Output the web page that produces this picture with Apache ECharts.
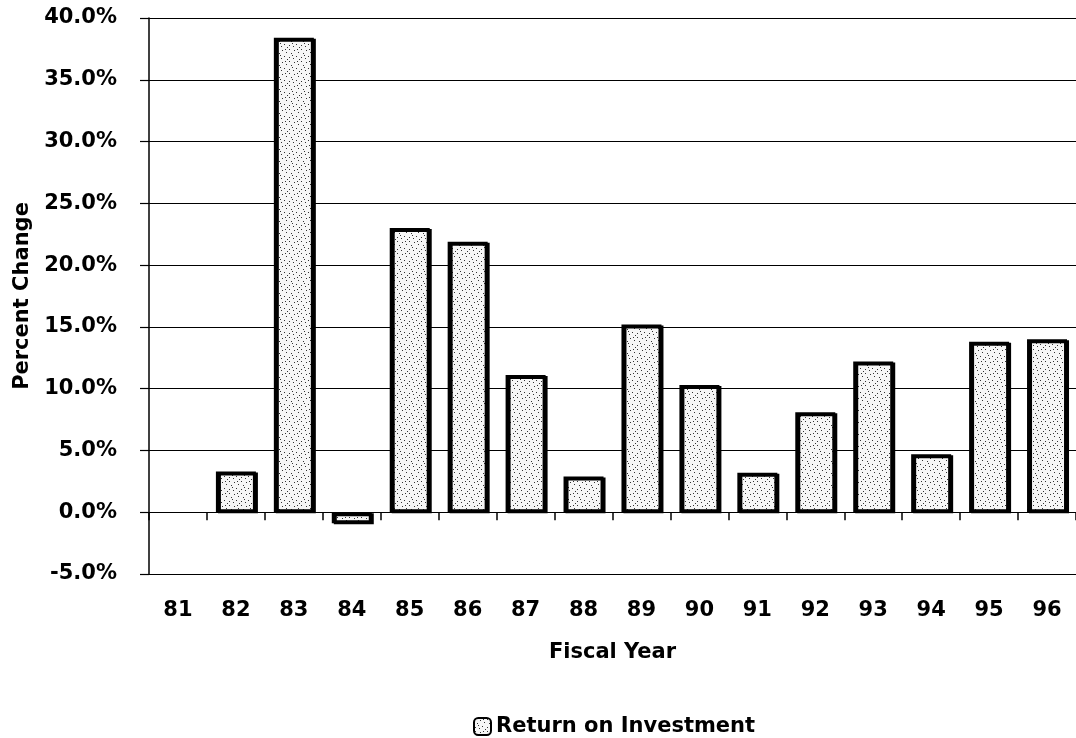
<!DOCTYPE html>
<html>
<head>
<meta charset="utf-8">
<script src="https://cdn.jsdelivr.net/npm/echarts@6/dist/echarts.min.js"></script>
<style>
html,body{margin:0;padding:0;background:#fff;}
#chart{width:1076px;height:738px;}
</style>
</head>
<body>
<div id="chart"></div>
<script>
var categories = ['81','82','83','84','85','86','87','88','89','90','91','92','93','94','95','96'];
var roiValues = [null, 3.3, 38.4, -0.9, 23.0, 21.9, 11.1, 2.9, 15.2, 10.3, 3.2, 8.1, 12.2, 4.7, 13.8, 14.0];
var seriesName = 'Return on Investment';

function makeStipple() {
  var c = document.createElement('canvas');
  c.width = 12; c.height = 12;
  var g = c.getContext('2d');
  g.fillStyle = '#f6f6f6';
  g.fillRect(0, 0, 12, 12);
  g.fillStyle = '#333';
  var pts = [[1,1],[6,2],[10,4],[3,5],[8,8],[1,9],[5,10],[11,11],[9,1],[4,7]];
  pts.forEach(function(p){ g.fillRect(p[0], p[1], 1, 1); });
  return c;
}
var stipple = makeStipple();

var font = 'DejaVu Sans';
var chart = echarts.init(document.getElementById('chart'), null, {renderer:'canvas'});
chart.setOption({
  animation: false,
  backgroundColor: '#ffffff',
  grid: { left: 149, right: -9, top: 18, bottom: 164 },
  legend: {
    data: [seriesName],
    left: 468, top: 711,
    itemWidth: 17, itemHeight: 17, itemGap: 10,
    textStyle: { fontFamily: font, fontWeight: 'bold', fontSize: 21, color: '#000' }
  },
  xAxis: [{
    type: 'category',
    data: categories,
    position: 'bottom',
    name: 'Fiscal Year',
    nameLocation: 'middle',
    nameGap: 68,
    nameTextStyle: { fontFamily: font, fontWeight: 'bold', fontSize: 21, color: '#000' },
    axisLine: { show: false, onZero: false },
    axisTick: { show: false },
    axisLabel: { fontFamily: font, fontWeight: 'bold', fontSize: 21, color: '#000', margin: 26 },
    splitLine: { show: false }
  }, {
    type: 'category',
    data: categories,
    position: 'bottom',
    axisLine: { show: true, onZero: true, lineStyle: { color: '#000', width: 1.2 } },
    axisTick: { show: true, length: 8, inside: false, lineStyle: { color: '#000', width: 1.5 } },
    axisLabel: { show: false },
    splitLine: { show: false }
  }],
  yAxis: {
    type: 'value',
    min: -5, max: 40, interval: 5,
    name: 'Percent Change',
    nameLocation: 'middle',
    nameGap: 115,
    nameTextStyle: { fontFamily: font, fontWeight: 'bold', fontSize: 21, color: '#000' },
    axisLine: { show: true, lineStyle: { color: '#000', width: 1.5 } },
    axisTick: { show: true, length: 9, lineStyle: { color: '#000', width: 1.2 } },
    axisLabel: {
      fontFamily: font, fontWeight: 'bold', fontSize: 21, color: '#000', margin: 32,
      formatter: function(v){ return v.toFixed(1) + '%'; }
    },
    splitLine: { show: true, lineStyle: { color: '#000', width: 1.2 } }
  },
  series: [{
    name: seriesName,
    type: 'bar',
    xAxisIndex: 1,
    data: roiValues,
    barWidth: 40,
    itemStyle: {
      color: { image: stipple, repeat: 'repeat' },
      borderColor: '#000',
      borderWidth: 3,
      shadowColor: '#000',
      shadowOffsetX: 2,
      shadowOffsetY: 1,
      shadowBlur: 0
    }
  }]
});
</script>
</body>
</html>
